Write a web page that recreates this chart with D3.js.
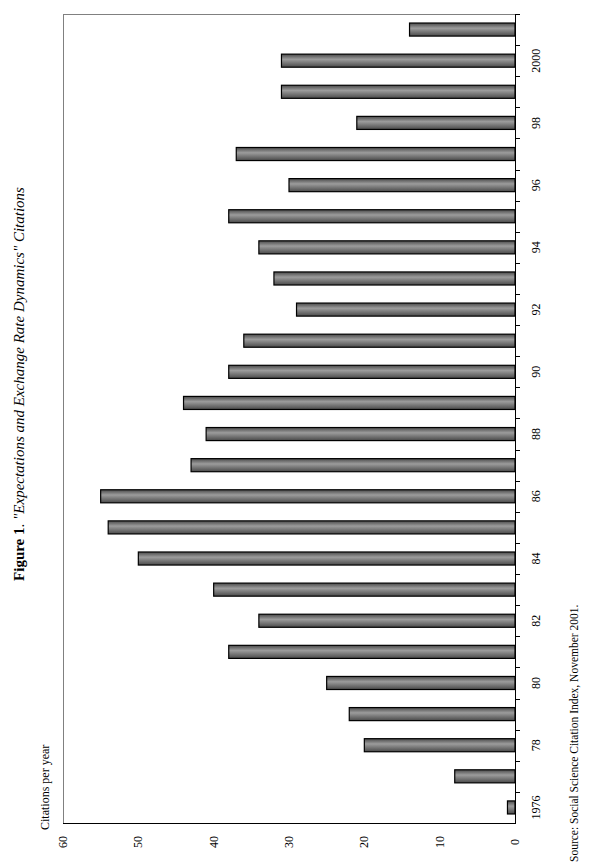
<!DOCTYPE html>
<html>
<head>
<meta charset="utf-8">
<script src="https://cdn.jsdelivr.net/npm/d3@7"></script>
<style>
  body { margin: 0; background: #fff; }
  svg { display: block; font-family: "Liberation Serif", "DejaVu Serif", serif; }
</style>
</head>
<body>
<div id="chart"></div>
<script>
// citations per year
const years = d3.range(1976, 2002);
const citations = [1, 8, 20, 22, 25, 38, 34, 40, 50, 54, 55, 43, 41, 44, 38, 36, 29, 32, 34, 38, 30, 37, 21, 31, 31, 14];
const valueTicks = [0, 10, 20, 30, 40, 50, 60];
const yearLabels = ["1976", "78", "80", "82", "84", "86", "88", "90", "92", "94", "96", "98", "2000"];

const W = 591, H = 864;
const plot = { left: 63, right: 515, top: 14, bottom: 823 };

const svg = d3.select("#chart").append("svg")
    .attr("width", W)
    .attr("height", H);

const defs = svg.append("defs");
const grad = defs.append("linearGradient")
    .attr("id", "barGrad")
    .attr("x1", 0).attr("y1", 0).attr("x2", 0).attr("y2", 1);
grad.append("stop").attr("offset", "0%").attr("stop-color", "#4a4a4a");
grad.append("stop").attr("offset", "40%").attr("stop-color", "#9c9c9c");
grad.append("stop").attr("offset", "100%").attr("stop-color", "#4a4a4a");

// value axis runs right to left (chart is turned on its side)
const x = d3.scaleLinear().domain([0, 60]).range([plot.right, plot.left]);
const y = d3.scaleBand()
    .domain(years.slice().reverse())
    .range([plot.top, plot.bottom])
    .paddingInner(0.58)
    .paddingOuter(0.29);

// frame lines (grey) on top and left
svg.append("line")
    .attr("x1", plot.left).attr("x2", plot.right)
    .attr("y1", plot.top + 0.5).attr("y2", plot.top + 0.5)
    .attr("stroke", "#808080");
svg.append("line")
    .attr("x1", plot.left + 0.5).attr("x2", plot.left + 0.5)
    .attr("y1", plot.top).attr("y2", plot.bottom)
    .attr("stroke", "#808080");

// bars
svg.selectAll(".bar")
    .data(years)
    .enter().append("rect")
    .attr("class", "bar")
    .attr("x", (d, i) => x(citations[i]))
    .attr("width", (d, i) => x(0) - x(citations[i]))
    .attr("y", d => y(d))
    .attr("height", y.bandwidth())
    .attr("fill", "url(#barGrad)")
    .attr("stroke", "#000")
    .attr("stroke-width", 1.2);

// category axis on the right, ticks between categories
const step = y.step();
const catAxis = svg.append("g");
catAxis.append("line")
    .attr("x1", plot.right + 0.5).attr("x2", plot.right + 0.5)
    .attr("y1", plot.top).attr("y2", plot.bottom)
    .attr("stroke", "#000");
catAxis.selectAll(".tick")
    .data(years)
    .enter().append("line")
    .attr("x1", plot.right).attr("x2", plot.right + 5)
    .attr("y1", d => Math.round(y(d) - y.paddingInner() * step / 2) + 0.5)
    .attr("y2", d => Math.round(y(d) - y.paddingInner() * step / 2) + 0.5)
    .attr("stroke", "#000");

catAxis.selectAll(".ylab")
    .data(yearLabels)
    .enter().append("text")
    .attr("transform", (d, i) => {
        const yr = years[i * 2];
        return `translate(540,${y(yr) + y.bandwidth() / 2}) rotate(-90)`;
    })
    .attr("text-anchor", "middle")
    .attr("font-size", 12)
    .text(d => d);

// value axis at the bottom
svg.append("line")
    .attr("x1", plot.left).attr("x2", plot.right + 1)
    .attr("y1", plot.bottom + 0.5).attr("y2", plot.bottom + 0.5)
    .attr("stroke", "#000");
svg.selectAll(".xlab")
    .data(valueTicks)
    .enter().append("text")
    .attr("transform", d => `translate(${x(d) + 4},842) rotate(-90)`)
    .attr("text-anchor", "middle")
    .attr("font-size", 12)
    .text(d => d);

// axis caption
svg.append("text")
    .attr("transform", "translate(49,830) rotate(-90)")
    .attr("font-size", 12)
    .text("Citations per year");

// title
const title = svg.append("text")
    .attr("transform", "translate(24,384) rotate(-90)")
    .attr("text-anchor", "middle")
    .attr("font-size", 15);
title.append("tspan").attr("font-weight", "bold").text("Figure 1");
title.append("tspan").text(". ");
title.append("tspan").attr("font-style", "italic").text("\"Expectations and Exchange Rate Dynamics\" Citations");

// source note
svg.append("text")
    .attr("transform", "translate(578,862) rotate(-90)")
    .attr("font-size", 11.5)
    .text("Source: Social Science Citation Index, November 2001.");
</script>
</body>
</html>
